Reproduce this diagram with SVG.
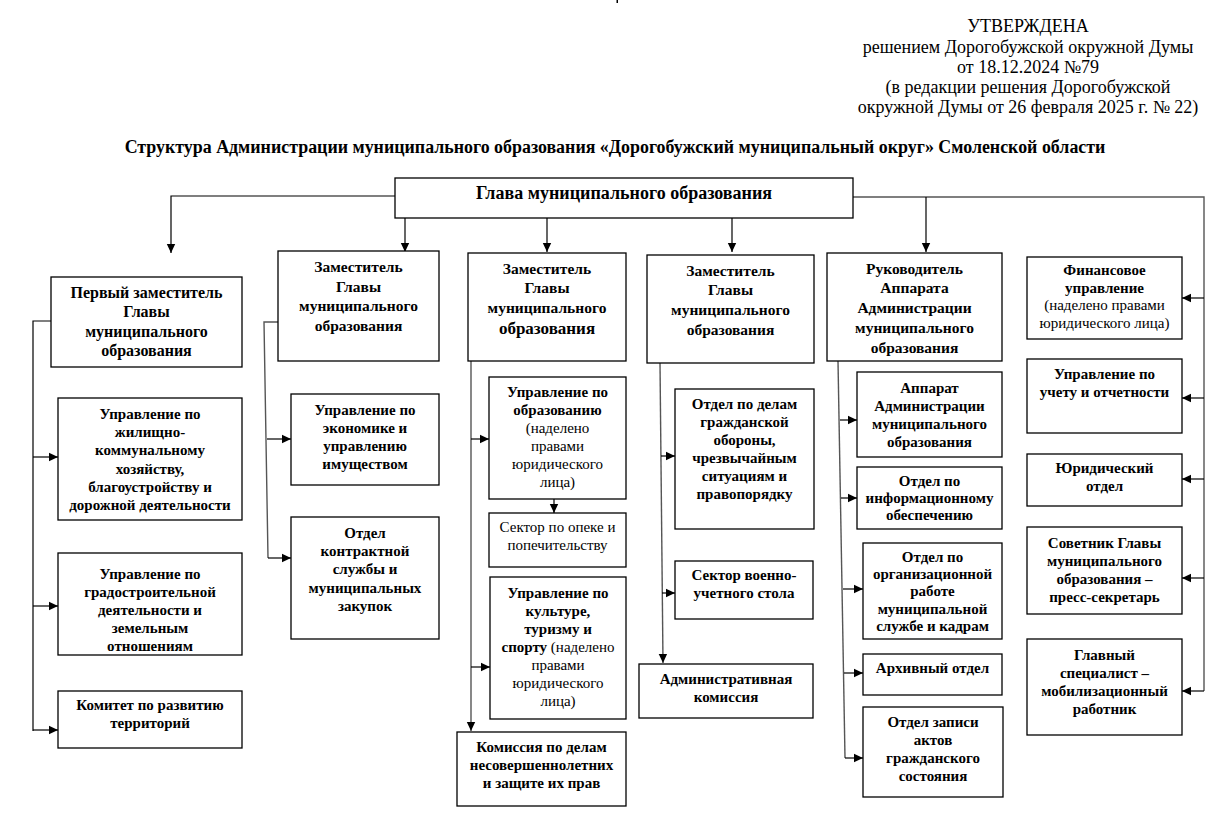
<svg xmlns="http://www.w3.org/2000/svg" width="1232" height="830" viewBox="0 0 1232 830">
<style>
.bg{fill:#fff}
.box{fill:#fff;stroke:#000;stroke-width:1.3}
text{font-family:"Liberation Serif","Times New Roman",serif;fill:#000}
.t{font-size:15px;font-weight:bold;text-anchor:middle}
.d{font-size:15.5px}
.r{font-weight:normal}
.h{font-size:18px;text-anchor:middle}
.ttl{font-size:17.9px;font-weight:bold;text-anchor:middle}
.c{fill:none;stroke:#000;stroke-width:1.2}
.g{fill:none;stroke:#555;stroke-width:1.4}
</style>
<defs>
<marker id="a" markerUnits="userSpaceOnUse" markerWidth="10" markerHeight="10" refX="9" refY="5" orient="auto">
<path d="M0,0.8 L9,5 L0,9.2 Z" fill="#000"/>
</marker>
</defs>
<rect class="bg" x="0" y="0" width="1232" height="830"/>
<rect x="616.5" y="0" width="1.5" height="3" fill="#000"/>

<g id="header">
<text class="h" x="1028" y="32">УТВЕРЖДЕНА</text>
<text class="h" x="1028" y="53">решением Дорогобужской окружной Думы</text>
<text class="h" x="1028" y="73">от 18.12.2024 №79</text>
<text class="h" x="1028" y="93">(в редакции решения Дорогобужской</text>
<text class="h" x="1028" y="113">окружной Думы от 26 февраля 2025 г. № 22)</text>
</g>
<g id="title">
<text class="ttl" x="615" y="153">Структура Администрации муниципального образования «Дорогобужский муниципальный округ» Смоленской области</text>
</g>

<g id="connectors">
<polyline class="c" points="395,196 171,196 171,253" marker-end="url(#a)"/>
<line class="c" x1="405" y1="218" x2="405" y2="252" marker-end="url(#a)"/>
<line class="c" x1="547" y1="218" x2="547" y2="252" marker-end="url(#a)"/>
<line class="c" x1="732" y1="218" x2="732" y2="252" marker-end="url(#a)"/>
<polyline class="g" points="853,197 1204,197 1204,691"/>
<line class="c" x1="926" y1="197" x2="926" y2="252" marker-end="url(#a)"/>
<line class="c" x1="1204" y1="298" x2="1182" y2="298" marker-end="url(#a)"/>
<line class="c" x1="1204" y1="398" x2="1182" y2="398" marker-end="url(#a)"/>
<line class="c" x1="1204" y1="479" x2="1182" y2="479" marker-end="url(#a)"/>
<line class="c" x1="1204" y1="578" x2="1182" y2="578" marker-end="url(#a)"/>
<line class="c" x1="1204" y1="691" x2="1182" y2="691" marker-end="url(#a)"/>

<polyline class="c" points="51,321 33,321 33,731"/>
<line class="c" x1="33" y1="457" x2="58" y2="457" marker-end="url(#a)"/>
<line class="c" x1="33" y1="606" x2="58" y2="606" marker-end="url(#a)"/>
<line class="c" x1="33" y1="730" x2="58" y2="730" marker-end="url(#a)"/>

<polyline class="g" points="278,322 264,322 268,558"/>
<line class="c" x1="267" y1="439" x2="291" y2="439" marker-end="url(#a)"/>
<line class="c" x1="268" y1="558" x2="291" y2="558" marker-end="url(#a)"/>

<line class="g" x1="471" y1="361" x2="471" y2="731" marker-end="url(#a)"/>
<line class="c" x1="471" y1="439" x2="489" y2="439" marker-end="url(#a)"/>
<line class="c" x1="471" y1="667" x2="490" y2="667" marker-end="url(#a)"/>
<line class="c" x1="554" y1="499" x2="554" y2="513" marker-end="url(#a)"/>

<line class="g" x1="660" y1="363" x2="663" y2="663" marker-end="url(#a)"/>
<line class="c" x1="661" y1="456" x2="675" y2="456" marker-end="url(#a)"/>
<line class="c" x1="662" y1="593" x2="675" y2="593" marker-end="url(#a)"/>

<line class="g" x1="838" y1="361" x2="845" y2="758"/>
<line class="c" x1="840" y1="420" x2="857" y2="420" marker-end="url(#a)"/>
<line class="c" x1="841" y1="498" x2="857" y2="498" marker-end="url(#a)"/>
<line class="c" x1="843" y1="589" x2="863" y2="589" marker-end="url(#a)"/>
<line class="c" x1="844" y1="673" x2="863" y2="673" marker-end="url(#a)"/>
<line class="c" x1="845" y1="758" x2="863" y2="758" marker-end="url(#a)"/>
</g>

<g id="head">
<rect class="box" x="395" y="178" width="458" height="40"/>
<text class="t" x="624" y="199" style="font-size:18px">Глава муниципального образования</text>
</g>

<g id="first-deputy">
<rect class="box" x="51" y="277" width="191" height="90"/>
<text class="t" x="146.5" y="298" style="font-size:16px">Первый заместитель</text>
<text class="t" x="146.5" y="317" style="font-size:16px">Главы</text>
<text class="t" x="146.5" y="337" style="font-size:16px">муниципального</text>
<text class="t" x="146.5" y="356" style="font-size:16px">образования</text>
</g>

<g id="deputy-2">
<rect class="box" x="278" y="251" width="161" height="110"/>
<text class="t d" x="358.5" y="272">Заместитель</text>
<text class="t d" x="358.5" y="292">Главы</text>
<text class="t d" x="358.5" y="311">муниципального</text>
<text class="t d" x="358.5" y="331">образования</text>
</g>

<g id="deputy-3">
<rect class="box" x="468" y="253" width="158" height="108"/>
<text class="t d" x="547" y="274">Заместитель</text>
<text class="t d" x="547" y="293">Главы</text>
<text class="t d" x="547" y="313">муниципального</text>
<text class="t" x="547" y="334" style="font-size:17px">образования</text>
</g>

<g id="deputy-4">
<rect class="box" x="647" y="255" width="167" height="108"/>
<text class="t d" x="730.5" y="276">Заместитель</text>
<text class="t d" x="730.5" y="295">Главы</text>
<text class="t d" x="730.5" y="315">муниципального</text>
<text class="t d" x="730.5" y="335">образования</text>
</g>

<g id="head-of-apparatus">
<rect class="box" x="827" y="253" width="175" height="108"/>
<text class="t d" x="914.5" y="274">Руководитель</text>
<text class="t d" x="914.5" y="293">Аппарата</text>
<text class="t d" x="914.5" y="313">Администрации</text>
<text class="t d" x="914.5" y="333">муниципального</text>
<text class="t d" x="914.5" y="353">образования</text>
</g>

<g id="finance">
<rect class="box" x="1027" y="257" width="155" height="82"/>
<text class="t" x="1104.5" y="275">Финансовое</text>
<text class="t" x="1104.5" y="293">управление</text>
<text class="t r" x="1104.5" y="310">(наделено правами</text>
<text class="t r" x="1104.5" y="328">юридического лица)</text>
</g>

<g id="housing">
<rect class="box" x="58" y="398" width="184" height="122"/>
<text class="t" x="150" y="419">Управление по</text>
<text class="t" x="150" y="437">жилищно-</text>
<text class="t" x="150" y="455">коммунальному</text>
<text class="t" x="150" y="474">хозяйству,</text>
<text class="t" x="150" y="492">благоустройству и</text>
<text class="t" x="150" y="510">дорожной деятельности</text>
</g>

<g id="urban">
<rect class="box" x="58" y="553" width="184" height="102"/>
<text class="t" x="150" y="579">Управление по</text>
<text class="t" x="150" y="597">градостроительной</text>
<text class="t" x="150" y="615">деятельности и</text>
<text class="t" x="150" y="633">земельным</text>
<text class="t" x="150" y="651">отношениям</text>
</g>

<g id="territories">
<rect class="box" x="58" y="691" width="184" height="57"/>
<text class="t" x="150" y="710">Комитет по развитию</text>
<text class="t" x="150" y="728">территорий</text>
</g>

<g id="economy">
<rect class="box" x="291" y="394" width="148" height="91"/>
<text class="t" x="365" y="415">Управление по</text>
<text class="t" x="365" y="433">экономике и</text>
<text class="t" x="365" y="451">управлению</text>
<text class="t" x="365" y="469">имуществом</text>
</g>

<g id="contract">
<rect class="box" x="291" y="517" width="148" height="122"/>
<text class="t" x="365" y="538">Отдел</text>
<text class="t" x="365" y="556">контрактной</text>
<text class="t" x="365" y="574">службы и</text>
<text class="t" x="365" y="593">муниципальных</text>
<text class="t" x="365" y="611">закупок</text>
</g>

<g id="education">
<rect class="box" x="489" y="377" width="137" height="122"/>
<text class="t" x="557.5" y="397">Управление по</text>
<text class="t" x="557.5" y="415">образованию</text>
<text class="t r" x="557.5" y="433">(наделено</text>
<text class="t r" x="557.5" y="451">правами</text>
<text class="t r" x="557.5" y="469">юридического</text>
<text class="t r" x="557.5" y="487">лица)</text>
</g>

<g id="guardianship">
<rect class="box" x="489" y="513" width="137" height="54"/>
<text class="t r" x="557.5" y="532">Сектор по опеке и</text>
<text class="t r" x="557.5" y="550">попечительству</text>
</g>

<g id="culture">
<rect class="box" x="490" y="577" width="136" height="142"/>
<text class="t" x="558" y="598">Управление по</text>
<text class="t" x="558" y="616">культуре,</text>
<text class="t" x="558" y="634">туризму и</text>
<text class="t" x="558" y="652">спорту<tspan font-weight="normal"> (наделено</tspan></text>
<text class="t r" x="558" y="670">правами</text>
<text class="t r" x="558" y="688">юридического</text>
<text class="t r" x="558" y="706">лица)</text>
</g>

<g id="minors">
<rect class="box" x="457" y="732" width="169" height="74"/>
<text class="t" x="541.5" y="752">Комиссия по делам</text>
<text class="t" x="541.5" y="770">несовершеннолетних</text>
<text class="t" x="541.5" y="788">и защите их прав</text>
</g>

<g id="civil-defense">
<rect class="box" x="675" y="389" width="139" height="140"/>
<text class="t" x="744.5" y="409">Отдел по делам</text>
<text class="t" x="744.5" y="427">гражданской</text>
<text class="t" x="744.5" y="445">обороны,</text>
<text class="t" x="744.5" y="463">чрезвычайным</text>
<text class="t" x="744.5" y="481">ситуациям и</text>
<text class="t" x="744.5" y="499">правопорядку</text>
</g>

<g id="military">
<rect class="box" x="675" y="561" width="138" height="58"/>
<text class="t" x="744" y="580">Сектор военно-</text>
<text class="t" x="744" y="598">учетного стола</text>
</g>

<g id="admin-commission">
<rect class="box" x="639" y="664" width="174" height="54"/>
<text class="t" x="726" y="684">Административная</text>
<text class="t" x="726" y="702">комиссия</text>
</g>

<g id="apparatus">
<rect class="box" x="857" y="372" width="145" height="85"/>
<text class="t" x="929.5" y="393">Аппарат</text>
<text class="t" x="929.5" y="411">Администрации</text>
<text class="t" x="929.5" y="429">муниципального</text>
<text class="t" x="929.5" y="447">образования</text>
</g>

<g id="information">
<rect class="box" x="857" y="467" width="145" height="62"/>
<text class="t" x="929.5" y="486">Отдел по</text>
<text class="t" x="929.5" y="503">информационному</text>
<text class="t" x="929.5" y="520">обеспечению</text>
</g>

<g id="personnel">
<rect class="box" x="863" y="543" width="139" height="96"/>
<text class="t" x="932.5" y="562">Отдел по</text>
<text class="t" x="932.5" y="579">организационной</text>
<text class="t" x="932.5" y="596">работе</text>
<text class="t" x="932.5" y="614">муниципальной</text>
<text class="t" x="932.5" y="631">службе и кадрам</text>
</g>

<g id="archive">
<rect class="box" x="863" y="654" width="139" height="41"/>
<text class="t" x="932.5" y="673">Архивный отдел</text>
</g>

<g id="registry">
<rect class="box" x="863" y="707" width="140" height="90"/>
<text class="t" x="933" y="727">Отдел записи</text>
<text class="t" x="933" y="745">актов</text>
<text class="t" x="933" y="763">гражданского</text>
<text class="t" x="933" y="781">состояния</text>
</g>

<g id="accounting">
<rect class="box" x="1027" y="359" width="155" height="74"/>
<text class="t" x="1104.5" y="379">Управление по</text>
<text class="t" x="1104.5" y="397">учету и отчетности</text>
</g>

<g id="legal">
<rect class="box" x="1027" y="454" width="155" height="52"/>
<text class="t" x="1104.5" y="473">Юридический</text>
<text class="t" x="1104.5" y="491">отдел</text>
</g>

<g id="advisor">
<rect class="box" x="1027" y="527" width="155" height="87"/>
<text class="t" x="1104.5" y="548">Советник Главы</text>
<text class="t" x="1104.5" y="566">муниципального</text>
<text class="t" x="1104.5" y="584">образования –</text>
<text class="t" x="1104.5" y="602">пресс-секретарь</text>
</g>

<g id="mobilization">
<rect class="box" x="1027" y="639" width="155" height="96"/>
<text class="t" x="1104.5" y="660">Главный</text>
<text class="t" x="1104.5" y="678">специалист –</text>
<text class="t" x="1104.5" y="696">мобилизационный</text>
<text class="t" x="1104.5" y="714">работник</text>
</g>
</svg>
